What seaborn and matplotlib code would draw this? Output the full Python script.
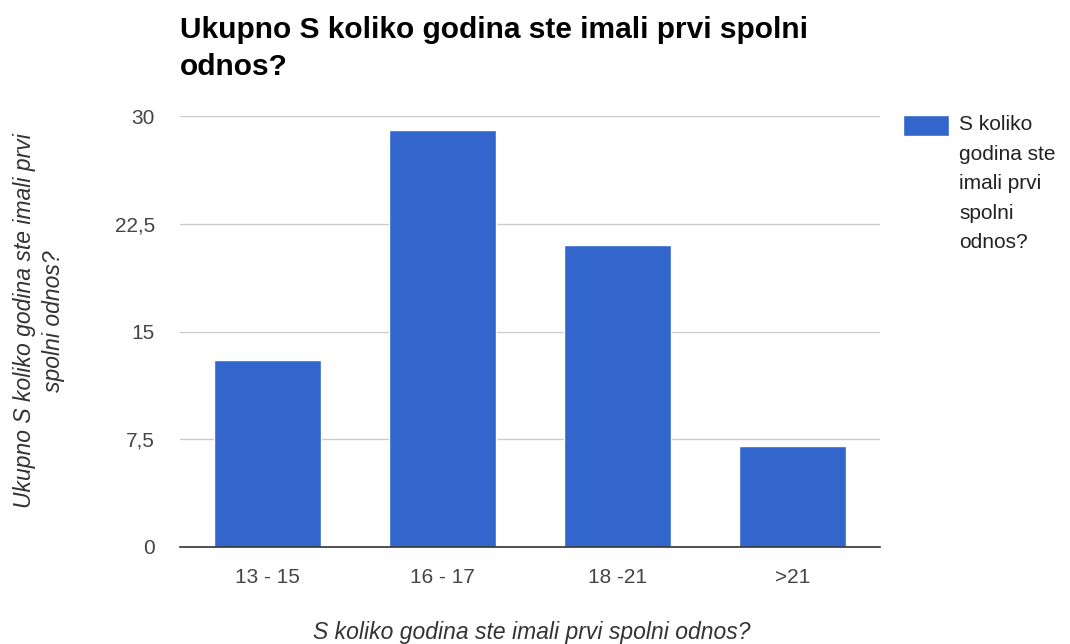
import matplotlib
matplotlib.use("Agg")
import matplotlib.pyplot as plt
import matplotlib.ticker as mticker
import seaborn as sns
import pandas as pd

categories = ["13 - 15", "16 - 17", "18 -21", ">21"]
values = [13, 29, 21, 7]
yticks = [0, 7.5, 15, 22.5, 30]
title = "Ukupno S koliko godina ste imali prvi spolni\nodnos?"
ylabel = "Ukupno S koliko godina ste imali prvi\nspolni odnos?"
xlabel = "S koliko godina ste imali prvi spolni odnos?"
legend_label = "S koliko\ngodina ste\nimali prvi\nspolni\nodnos?"

sns.set_style("white")
plt.rcParams["font.family"] = ["Liberation Sans", "DejaVu Sans"]

df = pd.DataFrame({"cat": categories, "val": values})

W, H = 1070, 644
fig = plt.figure(figsize=(W / 100, H / 100), dpi=100)
ax = fig.add_axes([180 / W, 1 - 547 / H, 700 / W, 431 / H])

sns.barplot(data=df, x="cat", y="val", color="#3366CC", width=0.61,
            saturation=1, ax=ax, label=legend_label, zorder=3)

ax.set_ylim(0, 30)
ax.set_yticks(yticks)
ax.yaxis.set_major_formatter(mticker.FuncFormatter(
    lambda v, p: (("%g" % v).replace(".", ","))))
ax.grid(axis="y", color="#cccccc", linewidth=1, zorder=0)
ax.grid(axis="x", visible=False)
for s in ["top", "right", "left"]:
    ax.spines[s].set_visible(False)
ax.spines["bottom"].set_color("#333333")
ax.spines["bottom"].set_linewidth(1.2)
ax.spines["bottom"].set_zorder(4)
ax.tick_params(axis="both", length=0, labelsize=15, colors="#444444")
ax.tick_params(axis="y", pad=18)
ax.tick_params(axis="x", pad=15)
ax.set_xlabel("")
ax.set_ylabel("")

fig.text(531.5 / W, 1 - 633 / H, xlabel, fontsize=16.5, style="italic",
         color="#333333", ha="center", va="center")
fig.text(39 / W, 1 - 321 / H, ylabel, fontsize=16.5, style="italic",
         color="#333333", ha="center", va="center", rotation=90,
         rotation_mode="anchor", linespacing=1.3, multialignment="center")

fig.text(180 / W, 1 - 16 / H, title, fontsize=21.5, fontweight="bold",
         color="#000000", ha="left", va="top", linespacing=1.4)

leg = ax.legend(loc="upper left", bbox_to_anchor=(1.033, 1.002), frameon=False,
                fontsize=15, handlelength=2.2, handleheight=1.15,
                handletextpad=0.5, borderaxespad=0, borderpad=0)
for t in leg.get_texts():
    t.set_color("#222222")
    t.set_linespacing(1.7)
for col in leg._legend_handle_box.get_children():
    for hp in col.get_children():
        hp.align = "top"

fig.savefig("out.png", dpi=100)
